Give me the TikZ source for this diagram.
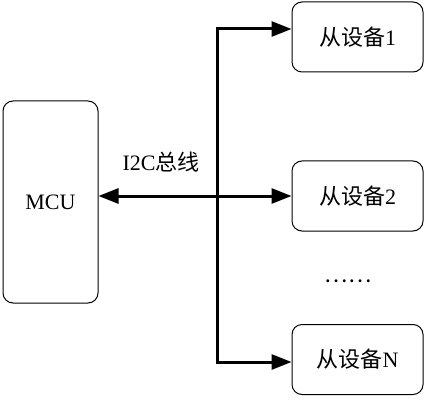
\documentclass[tikz,border=0pt]{standalone}
\usepackage{fontspec}
\setmainfont{Liberation Serif}
\newfontfamily\cjk{Noto Sans CJK SC}
\usetikzlibrary{arrows.meta, positioning}

\begin{document}
\begin{tikzpicture}[
    x=0.5pt, y=-0.5pt,
    box/.style={draw, rounded corners=5pt, line width=0.5pt, align=center,
                font=\fontsize{11}{13}\selectfont},
    mcubox/.style={box, minimum width=47.5pt, minimum height=101pt},
    slavebox/.style={box, minimum width=65.5pt, minimum height=35pt},
    bus/.style={line width=1.5pt, miter limit=4,
                {Triangle[length=10pt,width=7.5pt]}-{Triangle[length=10pt,width=7.5pt]}}
  ]
  \useasboundingbox (0,0) rectangle (426,400);

  % master and slaves
  \node[mcubox] (mcu) at (50.5,202) {MCU};
  \node[slavebox] (s1) at (357.5,37) {{\cjk 从设备}1};
  \node[slavebox] (s2) at (357.5,196) {{\cjk 从设备}2};
  \node[slavebox] (sn) at (357.5,359.5) {{\cjk 从设备}N};
  \node[font=\fontsize{11}{13}\selectfont] (dots) at (348,281) {{\cjk ……}};
  \node[font=\fontsize{11}{13}\selectfont] (lbl) at (161,162) {I2C{\cjk 总线}};

  % bus lines
  \coordinate (top) at (217,29);
  \coordinate (bot) at (217,362);
  \draw[bus] (top -| s1.west) -- (top) -- (bot) -- (bot -| sn.west);
  \draw[bus] (mcu.east |- s2.west) -- (s2.west);
\end{tikzpicture}
\end{document}
